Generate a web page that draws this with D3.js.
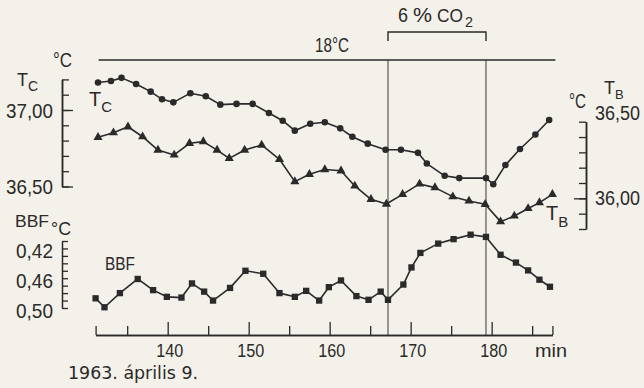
<!DOCTYPE html>
<html>
<head>
<meta charset="utf-8">
<script src="https://cdn.jsdelivr.net/npm/d3@7"></script>
<style>
  html, body { margin: 0; padding: 0; background: #f3f1e9; }
  svg { display: block; }
  text { font-family: "Liberation Sans", Arial, sans-serif; fill: #2a2a2a; }
  .date { font-family: "DejaVu Sans", sans-serif; }
</style>
</head>
<body>
<svg id="chart" width="644" height="388"></svg>
<script>
// Core temperature T_C (°C) against time (min)
const tcTime = [131.4, 133.0, 134.3, 136.1, 137.9, 139.3, 140.7, 142.8, 144.7, 146.5, 148.5, 150.5,
  152.5, 154.2, 155.7, 157.6, 159.4, 161.3, 162.8, 164.7, 166.9, 168.8, 170.9, 172.0, 174.2, 176.0,
  179.3, 180.2, 181.7, 183.5, 185.4, 187.1];
const tcValues = [37.18, 37.19, 37.21, 37.17, 37.12, 37.07, 37.05, 37.11, 37.09, 37.035, 37.04, 37.04,
  36.98, 36.93, 36.865, 36.91, 36.92, 36.88, 36.825, 36.78, 36.74, 36.74, 36.72, 36.65, 36.57, 36.555,
  36.555, 36.515, 36.64, 36.745, 36.84, 36.935];

// Blood temperature T_B (°C)
const tbTime = [131.4, 133.3, 135.1, 136.9, 138.8, 140.8, 142.7, 144.4, 146.1, 147.6, 149.5, 151.6,
  153.8, 155.7, 157.5, 159.4, 161.4, 163.1, 165.1, 167.0, 169.0, 171.1, 173.0, 175.2, 177.2, 179.2,
  181.1, 182.8, 184.5, 185.9, 187.5];
const tbValues = [36.398, 36.428, 36.467, 36.402, 36.315, 36.283, 36.359, 36.37, 36.315, 36.261, 36.315, 36.348,
  36.255, 36.109, 36.157, 36.188, 36.18, 36.081, 35.994, 35.963, 36.026, 36.094, 36.07, 36.011, 35.983, 35.961,
  35.848, 35.885, 35.934, 35.972, 36.026];

// BBF (°C), plotted on an inverted scale
const bbfTime = [131.1, 132.2, 134.1, 136.3, 138.2, 139.9, 141.7, 143.0, 144.5, 145.6, 147.7, 149.6,
  151.8, 153.8, 155.7, 157.1, 158.7, 159.9, 161.4, 163.3, 164.8, 166.3, 167.2, 169.1, 170.1, 171.2,
  173.4, 175.3, 177.4, 179.3, 181.1, 183.0, 184.5, 185.9, 187.2];
const bbfValues = [0.487, 0.499, 0.480, 0.461, 0.476, 0.485, 0.486, 0.467, 0.478, 0.490, 0.473, 0.450,
  0.454, 0.480, 0.485, 0.477, 0.490, 0.472, 0.463, 0.484, 0.489, 0.478, 0.489, 0.4685, 0.4455, 0.426,
  0.4135, 0.4075, 0.4015, 0.4045, 0.4285, 0.439, 0.4495, 0.462, 0.4715];

// Axis ticks and labels
const timeExtent = [131.1, 187.5];
const timeMajorTicks = [140, 150, 160, 170, 180];
const timeMinorTicks = [131.1, 135, 145, 155, 165, 175, 185, 187.5];
const tcTicks = [36.5, 36.6, 36.7, 36.8, 36.9, 37.0, 37.1, 37.2];
const tcLabelTicks = [36.5, 37.0];
const tcLabels = ["36,50", "37,00"];
const tbTicks = [35.8, 35.9, 36.0, 36.1, 36.2, 36.3, 36.4, 36.5];
const tbLabelTicks = [36.0, 36.5];
const tbLabels = ["36,00", "36,50"];
const bbfTicks = [0.41, 0.42, 0.43, 0.44, 0.45, 0.46, 0.47, 0.48, 0.49, 0.50];
const bbfLabelTicks = [0.42, 0.46, 0.50];
const bbfLabels = ["0,42", "0,46", "0,50"];

// CO2 exposure window (min)
const co2Window = [167.2, 179.3];

const ink = "#2a2a2a";
const svg = d3.select("#chart");

const x = d3.scaleLinear().domain(timeExtent).range([95.6, 552.4]);
const yTc = d3.scaleLinear().domain([36.5, 37.2]).range([186.5, 79.4]);
const yTb = d3.scaleLinear().domain([35.8, 36.5]).range([229, 121.7]);
const yBbf = d3.scaleLinear().domain([0.41, 0.50]).range([241, 308]);

const axisY = 335;

function styleAxis(g) {
  g.selectAll("path.domain").attr("stroke", ink).attr("stroke-width", 1.5);
  g.selectAll(".tick line").attr("stroke", ink).attr("stroke-width", 1.3);
  g.selectAll(".tick text").remove();
}

// narrow lettering: squeeze a label to a set width
function fit(sel, width) {
  sel.attr("textLength", width).attr("lengthAdjust", "spacingAndGlyphs");
}

// Time axis: ticks point up into the plot
svg.append("g").attr("transform", `translate(0,${axisY})`)
  .call(d3.axisTop(x).tickValues(timeMinorTicks).tickSizeInner(9).tickSizeOuter(0).tickFormat(""))
  .call(styleAxis);
svg.append("g").attr("transform", `translate(0,${axisY})`)
  .call(d3.axisTop(x).tickValues(timeMajorTicks).tickSizeInner(13).tickSizeOuter(0).tickFormat(""))
  .call(styleAxis);
svg.append("g").selectAll("text").data(timeMajorTicks).join("text")
  .attr("x", d => x(d) + 2).attr("y", 357)
  .attr("text-anchor", "middle").attr("font-size", 18.5)
  .text(d => d)
  .call(fit, 27);
svg.append("text").attr("x", 535).attr("y", 357).attr("font-size", 18.5).text("min").call(fit, 32);
svg.append("text").attr("class", "date").attr("x", 68).attr("y", 379).attr("font-size", 17)
  .text("1963. április 9.").call(fit, 130);

// T_C axis on the left
svg.append("g").attr("transform", "translate(62,0)")
  .call(d3.axisRight(yTc).tickValues(tcTicks).tickSizeInner(7).tickSizeOuter(0).tickFormat(""))
  .call(styleAxis);
svg.append("g").attr("transform", "translate(62,0)")
  .call(d3.axisRight(yTc).tickValues(tcLabelTicks).tickSizeInner(11).tickSizeOuter(0).tickFormat(""))
  .call(styleAxis);
svg.append("g").selectAll("text").data(tcLabelTicks).join("text")
  .attr("x", 53).attr("y", d => yTc(d)).attr("dy", "0.36em")
  .attr("text-anchor", "end").attr("font-size", 21)
  .text((d, i) => tcLabels[i])
  .call(fit, 47);
svg.append("text").attr("x", 53).attr("y", 67).attr("font-size", 20).text("°C").call(fit, 19);
const tcTitle = svg.append("text").attr("x", 17).attr("y", 86).attr("font-size", 18);
tcTitle.append("tspan").text("T");
tcTitle.append("tspan").attr("dy", 5).attr("font-size", 14).text("C");

// T_B axis on the right
svg.append("g").attr("transform", "translate(586,0)")
  .call(d3.axisLeft(yTb).tickValues(tbTicks).tickSizeInner(7).tickSizeOuter(0).tickFormat(""))
  .call(styleAxis);
svg.append("g").attr("transform", "translate(586,0)")
  .call(d3.axisLeft(yTb).tickValues([36.0]).tickSizeInner(12).tickSizeOuter(0).tickFormat(""))
  .call(styleAxis);
svg.append("g").selectAll("text").data(tbLabelTicks).join("text")
  .attr("x", 595).attr("y", d => yTb(d) - (d === 36.5 ? 9 : 0)).attr("dy", "0.36em")
  .attr("font-size", 19.5)
  .text((d, i) => tbLabels[i])
  .call(fit, 45);
svg.append("text").attr("x", 569).attr("y", 108).attr("font-size", 20).text("°C").call(fit, 17);
const tbTitle = svg.append("text").attr("x", 604).attr("y", 94).attr("font-size", 18);
tbTitle.append("tspan").text("T");
tbTitle.append("tspan").attr("dy", 5).attr("font-size", 13).text("B");

// BBF axis on the left
svg.append("g").attr("transform", "translate(62,0)")
  .call(d3.axisRight(yBbf).tickValues(bbfTicks).tickSizeInner(6).tickSizeOuter(0).tickFormat(""))
  .call(styleAxis);
svg.append("g").selectAll("text").data(bbfLabelTicks).join("text")
  .attr("x", 53).attr("y", d => yBbf(d) + 2).attr("dy", "0.36em")
  .attr("text-anchor", "end").attr("font-size", 21)
  .text((d, i) => bbfLabels[i])
  .call(fit, 37);
svg.append("text").attr("x", 15).attr("y", 227).attr("font-size", 17).text("BBF").call(fit, 34);
svg.append("text").attr("x", 51).attr("y", 235).attr("font-size", 19).text("°C").call(fit, 20);

// Ambient temperature line and CO2 window
svg.append("line").attr("x1", x(timeExtent[0]) + 3).attr("x2", x(timeExtent[1]) + 3)
  .attr("y1", 60).attr("y2", 60).attr("stroke", ink).attr("stroke-width", 1.6);
svg.append("text").attr("x", 315).attr("y", 52).attr("font-size", 20).text("18°C").call(fit, 34);
co2Window.forEach(t => {
  svg.append("line").attr("x1", x(t)).attr("x2", x(t)).attr("y1", 60).attr("y2", axisY)
    .attr("stroke", "#3a3a3a").attr("stroke-width", 1);
});
svg.append("path")
  .attr("d", `M${x(co2Window[0])},41V32H${x(co2Window[1])}V41`)
  .attr("fill", "none").attr("stroke", ink).attr("stroke-width", 1.4);
// "6 % CO2" heading, set piece by piece
svg.append("text").attr("x", 398).attr("y", 22).attr("font-size", 20).text("6").call(fit, 10);
svg.append("text").attr("x", 413).attr("y", 22).attr("font-size", 20).text("%").call(fit, 19);
svg.append("text").attr("x", 437).attr("y", 22).attr("font-size", 18.5).text("CO").call(fit, 26);
svg.append("text").attr("x", 465).attr("y", 27).attr("font-size", 14).text("2").call(fit, 8);

// Series
const line = d3.line();
function drawSeries(times, values, yScale, symbol, size) {
  const pts = times.map((t, i) => [x(t), yScale(values[i])]);
  svg.append("path").attr("d", line(pts)).attr("fill", "none")
    .attr("stroke", ink).attr("stroke-width", 1.6).attr("stroke-linejoin", "round");
  svg.append("g").selectAll("path").data(pts).join("path")
    .attr("transform", d => `translate(${d[0]},${d[1]})`)
    .attr("d", d3.symbol().type(symbol).size(size))
    .attr("fill", ink);
}
drawSeries(tcTime, tcValues, yTc, d3.symbolCircle, 34);
drawSeries(tbTime, tbValues, yTb, d3.symbolTriangle, 36);
drawSeries(bbfTime, bbfValues, yBbf, d3.symbolSquare, 40);

// In-plot series labels
const tcTag = svg.append("text").attr("x", 89).attr("y", 106).attr("font-size", 20);
tcTag.append("tspan").text("T");
tcTag.append("tspan").attr("dy", 6).attr("font-size", 15).text("C");
const tbTag = svg.append("text").attr("x", 546).attr("y", 220).attr("font-size", 20);
tbTag.append("tspan").text("T");
tbTag.append("tspan").attr("dy", 7).attr("font-size", 15).text("B");
svg.append("text").attr("x", 105).attr("y", 270).attr("font-size", 18).text("BBF").call(fit, 30);
</script>
</body>
</html>
